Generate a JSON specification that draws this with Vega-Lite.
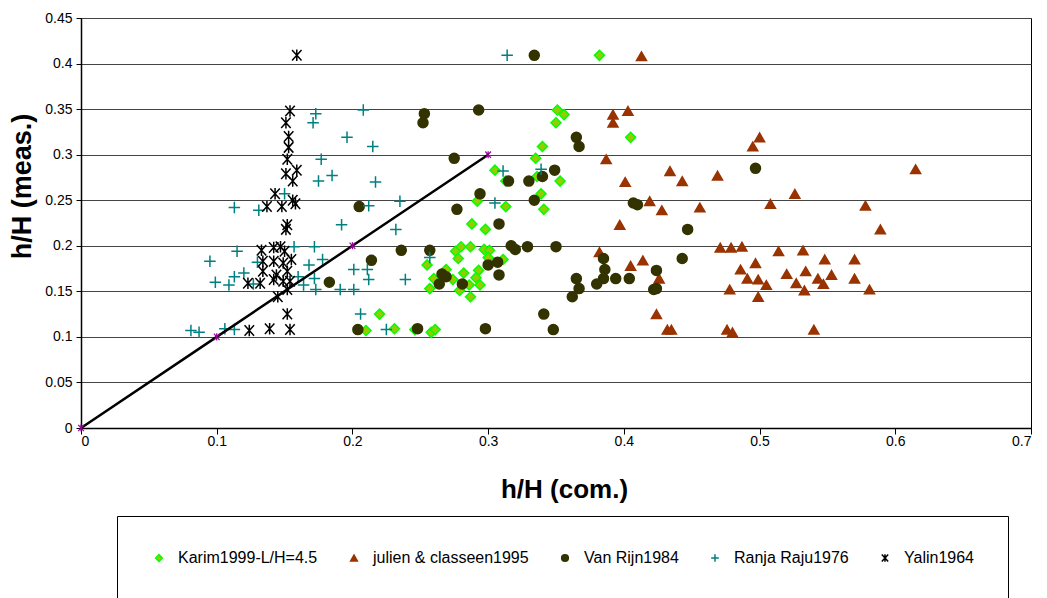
{
  "$schema": "https://vega.github.io/schema/vega-lite/v6.json",
  "width": 950,
  "height": 410,
  "autosize": {"type": "none"},
  "padding": {"left": 81, "top": 18, "right": 16, "bottom": 170},
  "background": "white",
  "config": {
    "font": "Liberation Sans",
    "view": {"stroke": "black", "strokeWidth": 1}
  },
  "datasets": {
    "pts": [
      {"s": "Karim1999-L/H=4.5", "x": 0.382, "y": 0.409},
      {"s": "Karim1999-L/H=4.5", "x": 0.351, "y": 0.349},
      {"s": "Karim1999-L/H=4.5", "x": 0.356, "y": 0.344},
      {"s": "Karim1999-L/H=4.5", "x": 0.350, "y": 0.335},
      {"s": "Karim1999-L/H=4.5", "x": 0.405, "y": 0.319},
      {"s": "Karim1999-L/H=4.5", "x": 0.340, "y": 0.309},
      {"s": "Karim1999-L/H=4.5", "x": 0.335, "y": 0.296},
      {"s": "Karim1999-L/H=4.5", "x": 0.305, "y": 0.283},
      {"s": "Karim1999-L/H=4.5", "x": 0.336, "y": 0.276},
      {"s": "Karim1999-L/H=4.5", "x": 0.353, "y": 0.271},
      {"s": "Karim1999-L/H=4.5", "x": 0.313, "y": 0.271},
      {"s": "Karim1999-L/H=4.5", "x": 0.339, "y": 0.257},
      {"s": "Karim1999-L/H=4.5", "x": 0.341, "y": 0.240},
      {"s": "Karim1999-L/H=4.5", "x": 0.313, "y": 0.243},
      {"s": "Karim1999-L/H=4.5", "x": 0.292, "y": 0.249},
      {"s": "Karim1999-L/H=4.5", "x": 0.288, "y": 0.224},
      {"s": "Karim1999-L/H=4.5", "x": 0.298, "y": 0.218},
      {"s": "Karim1999-L/H=4.5", "x": 0.276, "y": 0.194},
      {"s": "Karim1999-L/H=4.5", "x": 0.280, "y": 0.199},
      {"s": "Karim1999-L/H=4.5", "x": 0.287, "y": 0.199},
      {"s": "Karim1999-L/H=4.5", "x": 0.278, "y": 0.186},
      {"s": "Karim1999-L/H=4.5", "x": 0.297, "y": 0.196},
      {"s": "Karim1999-L/H=4.5", "x": 0.301, "y": 0.195},
      {"s": "Karim1999-L/H=4.5", "x": 0.300, "y": 0.187},
      {"s": "Karim1999-L/H=4.5", "x": 0.311, "y": 0.185},
      {"s": "Karim1999-L/H=4.5", "x": 0.269, "y": 0.174},
      {"s": "Karim1999-L/H=4.5", "x": 0.282, "y": 0.170},
      {"s": "Karim1999-L/H=4.5", "x": 0.293, "y": 0.173},
      {"s": "Karim1999-L/H=4.5", "x": 0.274, "y": 0.163},
      {"s": "Karim1999-L/H=4.5", "x": 0.291, "y": 0.165},
      {"s": "Karim1999-L/H=4.5", "x": 0.286, "y": 0.157},
      {"s": "Karim1999-L/H=4.5", "x": 0.294, "y": 0.157},
      {"s": "Karim1999-L/H=4.5", "x": 0.279, "y": 0.151},
      {"s": "Karim1999-L/H=4.5", "x": 0.287, "y": 0.144},
      {"s": "Karim1999-L/H=4.5", "x": 0.260, "y": 0.164},
      {"s": "Karim1999-L/H=4.5", "x": 0.257, "y": 0.153},
      {"s": "Karim1999-L/H=4.5", "x": 0.255, "y": 0.179},
      {"s": "Karim1999-L/H=4.5", "x": 0.220, "y": 0.125},
      {"s": "Karim1999-L/H=4.5", "x": 0.210, "y": 0.107},
      {"s": "Karim1999-L/H=4.5", "x": 0.231, "y": 0.109},
      {"s": "Karim1999-L/H=4.5", "x": 0.246, "y": 0.108},
      {"s": "Karim1999-L/H=4.5", "x": 0.258, "y": 0.105},
      {"s": "Karim1999-L/H=4.5", "x": 0.261, "y": 0.108},
      {"s": "julien & classeen1995", "x": 0.413, "y": 0.408},
      {"s": "julien & classeen1995", "x": 0.392, "y": 0.344},
      {"s": "julien & classeen1995", "x": 0.392, "y": 0.335},
      {"s": "julien & classeen1995", "x": 0.403, "y": 0.348},
      {"s": "julien & classeen1995", "x": 0.500, "y": 0.319},
      {"s": "julien & classeen1995", "x": 0.495, "y": 0.309},
      {"s": "julien & classeen1995", "x": 0.387, "y": 0.295},
      {"s": "julien & classeen1995", "x": 0.434, "y": 0.282},
      {"s": "julien & classeen1995", "x": 0.443, "y": 0.271},
      {"s": "julien & classeen1995", "x": 0.469, "y": 0.277},
      {"s": "julien & classeen1995", "x": 0.401, "y": 0.270},
      {"s": "julien & classeen1995", "x": 0.526, "y": 0.257},
      {"s": "julien & classeen1995", "x": 0.419, "y": 0.249},
      {"s": "julien & classeen1995", "x": 0.428, "y": 0.239},
      {"s": "julien & classeen1995", "x": 0.456, "y": 0.242},
      {"s": "julien & classeen1995", "x": 0.508, "y": 0.246},
      {"s": "julien & classeen1995", "x": 0.578, "y": 0.244},
      {"s": "julien & classeen1995", "x": 0.615, "y": 0.284},
      {"s": "julien & classeen1995", "x": 0.397, "y": 0.223},
      {"s": "julien & classeen1995", "x": 0.589, "y": 0.218},
      {"s": "julien & classeen1995", "x": 0.382, "y": 0.193},
      {"s": "julien & classeen1995", "x": 0.471, "y": 0.198},
      {"s": "julien & classeen1995", "x": 0.479, "y": 0.198},
      {"s": "julien & classeen1995", "x": 0.487, "y": 0.199},
      {"s": "julien & classeen1995", "x": 0.514, "y": 0.194},
      {"s": "julien & classeen1995", "x": 0.532, "y": 0.195},
      {"s": "julien & classeen1995", "x": 0.548, "y": 0.185},
      {"s": "julien & classeen1995", "x": 0.570, "y": 0.185},
      {"s": "julien & classeen1995", "x": 0.414, "y": 0.184},
      {"s": "julien & classeen1995", "x": 0.405, "y": 0.178},
      {"s": "julien & classeen1995", "x": 0.497, "y": 0.181},
      {"s": "julien & classeen1995", "x": 0.486, "y": 0.174},
      {"s": "julien & classeen1995", "x": 0.491, "y": 0.164},
      {"s": "julien & classeen1995", "x": 0.499, "y": 0.163},
      {"s": "julien & classeen1995", "x": 0.505, "y": 0.157},
      {"s": "julien & classeen1995", "x": 0.520, "y": 0.169},
      {"s": "julien & classeen1995", "x": 0.534, "y": 0.172},
      {"s": "julien & classeen1995", "x": 0.527, "y": 0.159},
      {"s": "julien & classeen1995", "x": 0.533, "y": 0.151},
      {"s": "julien & classeen1995", "x": 0.543, "y": 0.164},
      {"s": "julien & classeen1995", "x": 0.547, "y": 0.158},
      {"s": "julien & classeen1995", "x": 0.553, "y": 0.168},
      {"s": "julien & classeen1995", "x": 0.570, "y": 0.164},
      {"s": "julien & classeen1995", "x": 0.581, "y": 0.152},
      {"s": "julien & classeen1995", "x": 0.478, "y": 0.152},
      {"s": "julien & classeen1995", "x": 0.499, "y": 0.144},
      {"s": "julien & classeen1995", "x": 0.426, "y": 0.164},
      {"s": "julien & classeen1995", "x": 0.424, "y": 0.125},
      {"s": "julien & classeen1995", "x": 0.432, "y": 0.108},
      {"s": "julien & classeen1995", "x": 0.435, "y": 0.108},
      {"s": "julien & classeen1995", "x": 0.476, "y": 0.108},
      {"s": "julien & classeen1995", "x": 0.480, "y": 0.105},
      {"s": "julien & classeen1995", "x": 0.540, "y": 0.108},
      {"s": "Van Rijn1984", "x": 0.334, "y": 0.409},
      {"s": "Van Rijn1984", "x": 0.253, "y": 0.345},
      {"s": "Van Rijn1984", "x": 0.252, "y": 0.335},
      {"s": "Van Rijn1984", "x": 0.293, "y": 0.349},
      {"s": "Van Rijn1984", "x": 0.365, "y": 0.319},
      {"s": "Van Rijn1984", "x": 0.367, "y": 0.309},
      {"s": "Van Rijn1984", "x": 0.275, "y": 0.296},
      {"s": "Van Rijn1984", "x": 0.349, "y": 0.283},
      {"s": "Van Rijn1984", "x": 0.315, "y": 0.271},
      {"s": "Van Rijn1984", "x": 0.330, "y": 0.271},
      {"s": "Van Rijn1984", "x": 0.340, "y": 0.276},
      {"s": "Van Rijn1984", "x": 0.294, "y": 0.257},
      {"s": "Van Rijn1984", "x": 0.334, "y": 0.250},
      {"s": "Van Rijn1984", "x": 0.407, "y": 0.247},
      {"s": "Van Rijn1984", "x": 0.410, "y": 0.245},
      {"s": "Van Rijn1984", "x": 0.497, "y": 0.285},
      {"s": "Van Rijn1984", "x": 0.205, "y": 0.243},
      {"s": "Van Rijn1984", "x": 0.277, "y": 0.240},
      {"s": "Van Rijn1984", "x": 0.308, "y": 0.224},
      {"s": "Van Rijn1984", "x": 0.447, "y": 0.218},
      {"s": "Van Rijn1984", "x": 0.236, "y": 0.195},
      {"s": "Van Rijn1984", "x": 0.257, "y": 0.195},
      {"s": "Van Rijn1984", "x": 0.317, "y": 0.200},
      {"s": "Van Rijn1984", "x": 0.320, "y": 0.196},
      {"s": "Van Rijn1984", "x": 0.329, "y": 0.199},
      {"s": "Van Rijn1984", "x": 0.350, "y": 0.199},
      {"s": "Van Rijn1984", "x": 0.214, "y": 0.184},
      {"s": "Van Rijn1984", "x": 0.300, "y": 0.179},
      {"s": "Van Rijn1984", "x": 0.307, "y": 0.182},
      {"s": "Van Rijn1984", "x": 0.308, "y": 0.168},
      {"s": "Van Rijn1984", "x": 0.385, "y": 0.186},
      {"s": "Van Rijn1984", "x": 0.386, "y": 0.174},
      {"s": "Van Rijn1984", "x": 0.385, "y": 0.164},
      {"s": "Van Rijn1984", "x": 0.394, "y": 0.164},
      {"s": "Van Rijn1984", "x": 0.404, "y": 0.164},
      {"s": "Van Rijn1984", "x": 0.443, "y": 0.186},
      {"s": "Van Rijn1984", "x": 0.424, "y": 0.173},
      {"s": "Van Rijn1984", "x": 0.183, "y": 0.160},
      {"s": "Van Rijn1984", "x": 0.266, "y": 0.169},
      {"s": "Van Rijn1984", "x": 0.269, "y": 0.166},
      {"s": "Van Rijn1984", "x": 0.264, "y": 0.158},
      {"s": "Van Rijn1984", "x": 0.281, "y": 0.158},
      {"s": "Van Rijn1984", "x": 0.380, "y": 0.158},
      {"s": "Van Rijn1984", "x": 0.365, "y": 0.164},
      {"s": "Van Rijn1984", "x": 0.367, "y": 0.153},
      {"s": "Van Rijn1984", "x": 0.362, "y": 0.144},
      {"s": "Van Rijn1984", "x": 0.422, "y": 0.152},
      {"s": "Van Rijn1984", "x": 0.424, "y": 0.153},
      {"s": "Van Rijn1984", "x": 0.341, "y": 0.125},
      {"s": "Van Rijn1984", "x": 0.204, "y": 0.108},
      {"s": "Van Rijn1984", "x": 0.248, "y": 0.109},
      {"s": "Van Rijn1984", "x": 0.298, "y": 0.109},
      {"s": "Van Rijn1984", "x": 0.348, "y": 0.108},
      {"s": "Ranja Raju1976", "x": 0.314, "y": 0.409},
      {"s": "Ranja Raju1976", "x": 0.208, "y": 0.349},
      {"s": "Ranja Raju1976", "x": 0.173, "y": 0.345},
      {"s": "Ranja Raju1976", "x": 0.171, "y": 0.335},
      {"s": "Ranja Raju1976", "x": 0.196, "y": 0.319},
      {"s": "Ranja Raju1976", "x": 0.215, "y": 0.309},
      {"s": "Ranja Raju1976", "x": 0.177, "y": 0.295},
      {"s": "Ranja Raju1976", "x": 0.311, "y": 0.282},
      {"s": "Ranja Raju1976", "x": 0.339, "y": 0.284},
      {"s": "Ranja Raju1976", "x": 0.185, "y": 0.277},
      {"s": "Ranja Raju1976", "x": 0.175, "y": 0.271},
      {"s": "Ranja Raju1976", "x": 0.217, "y": 0.270},
      {"s": "Ranja Raju1976", "x": 0.150, "y": 0.257},
      {"s": "Ranja Raju1976", "x": 0.235, "y": 0.249},
      {"s": "Ranja Raju1976", "x": 0.305, "y": 0.247},
      {"s": "Ranja Raju1976", "x": 0.212, "y": 0.244},
      {"s": "Ranja Raju1976", "x": 0.113, "y": 0.242},
      {"s": "Ranja Raju1976", "x": 0.131, "y": 0.239},
      {"s": "Ranja Raju1976", "x": 0.192, "y": 0.223},
      {"s": "Ranja Raju1976", "x": 0.232, "y": 0.218},
      {"s": "Ranja Raju1976", "x": 0.115, "y": 0.194},
      {"s": "Ranja Raju1976", "x": 0.157, "y": 0.199},
      {"s": "Ranja Raju1976", "x": 0.172, "y": 0.199},
      {"s": "Ranja Raju1976", "x": 0.095, "y": 0.183},
      {"s": "Ranja Raju1976", "x": 0.130, "y": 0.182},
      {"s": "Ranja Raju1976", "x": 0.257, "y": 0.187},
      {"s": "Ranja Raju1976", "x": 0.178, "y": 0.185},
      {"s": "Ranja Raju1976", "x": 0.168, "y": 0.179},
      {"s": "Ranja Raju1976", "x": 0.201, "y": 0.174},
      {"s": "Ranja Raju1976", "x": 0.211, "y": 0.174},
      {"s": "Ranja Raju1976", "x": 0.120, "y": 0.170},
      {"s": "Ranja Raju1976", "x": 0.113, "y": 0.166},
      {"s": "Ranja Raju1976", "x": 0.160, "y": 0.166},
      {"s": "Ranja Raju1976", "x": 0.172, "y": 0.164},
      {"s": "Ranja Raju1976", "x": 0.212, "y": 0.163},
      {"s": "Ranja Raju1976", "x": 0.239, "y": 0.163},
      {"s": "Ranja Raju1976", "x": 0.099, "y": 0.160},
      {"s": "Ranja Raju1976", "x": 0.109, "y": 0.157},
      {"s": "Ranja Raju1976", "x": 0.127, "y": 0.158},
      {"s": "Ranja Raju1976", "x": 0.164, "y": 0.157},
      {"s": "Ranja Raju1976", "x": 0.173, "y": 0.152},
      {"s": "Ranja Raju1976", "x": 0.191, "y": 0.152},
      {"s": "Ranja Raju1976", "x": 0.201, "y": 0.152},
      {"s": "Ranja Raju1976", "x": 0.206, "y": 0.125},
      {"s": "Ranja Raju1976", "x": 0.225, "y": 0.108},
      {"s": "Ranja Raju1976", "x": 0.081, "y": 0.107},
      {"s": "Ranja Raju1976", "x": 0.087, "y": 0.105},
      {"s": "Ranja Raju1976", "x": 0.106, "y": 0.109},
      {"s": "Ranja Raju1976", "x": 0.113, "y": 0.108},
      {"s": "Yalin1964", "x": 0.159, "y": 0.409},
      {"s": "Yalin1964", "x": 0.154, "y": 0.348},
      {"s": "Yalin1964", "x": 0.151, "y": 0.335},
      {"s": "Yalin1964", "x": 0.153, "y": 0.320},
      {"s": "Yalin1964", "x": 0.153, "y": 0.308},
      {"s": "Yalin1964", "x": 0.152, "y": 0.295},
      {"s": "Yalin1964", "x": 0.159, "y": 0.283},
      {"s": "Yalin1964", "x": 0.151, "y": 0.279},
      {"s": "Yalin1964", "x": 0.156, "y": 0.271},
      {"s": "Yalin1964", "x": 0.143, "y": 0.257},
      {"s": "Yalin1964", "x": 0.156, "y": 0.250},
      {"s": "Yalin1964", "x": 0.137, "y": 0.243},
      {"s": "Yalin1964", "x": 0.148, "y": 0.243},
      {"s": "Yalin1964", "x": 0.158, "y": 0.246},
      {"s": "Yalin1964", "x": 0.152, "y": 0.223},
      {"s": "Yalin1964", "x": 0.151, "y": 0.218},
      {"s": "Yalin1964", "x": 0.133, "y": 0.195},
      {"s": "Yalin1964", "x": 0.142, "y": 0.198},
      {"s": "Yalin1964", "x": 0.147, "y": 0.199},
      {"s": "Yalin1964", "x": 0.150, "y": 0.194},
      {"s": "Yalin1964", "x": 0.155, "y": 0.185},
      {"s": "Yalin1964", "x": 0.134, "y": 0.183},
      {"s": "Yalin1964", "x": 0.142, "y": 0.183},
      {"s": "Yalin1964", "x": 0.149, "y": 0.181},
      {"s": "Yalin1964", "x": 0.134, "y": 0.172},
      {"s": "Yalin1964", "x": 0.144, "y": 0.168},
      {"s": "Yalin1964", "x": 0.152, "y": 0.172},
      {"s": "Yalin1964", "x": 0.132, "y": 0.159},
      {"s": "Yalin1964", "x": 0.142, "y": 0.163},
      {"s": "Yalin1964", "x": 0.149, "y": 0.161},
      {"s": "Yalin1964", "x": 0.123, "y": 0.159},
      {"s": "Yalin1964", "x": 0.154, "y": 0.161},
      {"s": "Yalin1964", "x": 0.145, "y": 0.144},
      {"s": "Yalin1964", "x": 0.152, "y": 0.152},
      {"s": "Yalin1964", "x": 0.152, "y": 0.125},
      {"s": "Yalin1964", "x": 0.124, "y": 0.107},
      {"s": "Yalin1964", "x": 0.139, "y": 0.109},
      {"s": "Yalin1964", "x": 0.154, "y": 0.108}
    ],
    "ideal": [
      {"x": 0, "y": 0},
      {"x": 0.1, "y": 0.1},
      {"x": 0.2, "y": 0.2},
      {"x": 0.3, "y": 0.3}
    ]
  },
  "layer": [
    {
      "data": {"name": "pts"},
      "mark": {"type": "point", "strokeWidth": 1.5, "opacity": 1},
      "encoding": {
        "x": {
          "field": "x", "type": "quantitative",
          "scale": {"domain": [0, 0.7], "nice": false, "zero": false},
          "axis": {
            "title": "h/H (com.)",
            "values": [0, 0.1, 0.2, 0.3, 0.4, 0.5, 0.6, 0.7],
            "format": ".1~f",
            "grid": false,
            "domainColor": "black", "domainWidth": 1.5,
            "tickColor": "black", "tickSize": 6,
            "labelColor": "black", "labelFontSize": 14, "labelPadding": 0,
            "titleFontSize": 26, "titleFontWeight": "bold", "titleColor": "black",
            "titleBaseline": "middle", "titleX": 483, "titleY": 61
          }
        },
        "y": {
          "field": "y", "type": "quantitative",
          "scale": {"domain": [0, 0.45], "nice": false, "zero": false},
          "axis": {
            "title": "h/H (meas.)",
            "values": [0, 0.05, 0.1, 0.15, 0.2, 0.25, 0.3, 0.35, 0.4, 0.45],
            "format": ".2~f",
            "grid": true, "gridColor": "#444444", "gridWidth": 1,
            "domainColor": "black", "domainWidth": 1.5,
            "tickColor": "black", "tickSize": 5,
            "labelColor": "black", "labelFontSize": 14, "labelPadding": 4,
            "titleFontSize": 27, "titleFontWeight": "bold", "titleColor": "black",
            "titleBaseline": "middle", "titleX": -59, "titleY": 168
          }
        },
        "shape": {
          "field": "s", "type": "nominal",
          "scale": {
            "domain": ["Karim1999-L/H=4.5", "julien & classeen1995", "Van Rijn1984", "Ranja Raju1976", "Yalin1964"],
            "range": ["diamond", "triangle-up", "circle", "M-1.15,0L1.15,0M0,-1.15L0,1.15", "M-0.95,-1.05L0.95,1.05M-0.95,1.05L0.95,-1.05M0,-1.15L0,1.15"]
          },
          "legend": {
            "orient": "none", "legendX": 36, "legendY": 498,
            "direction": "horizontal", "columns": 5, "columnPadding": 28,
            "title": null, "padding": 34,
            "strokeColor": "black", "fillColor": "white",
            "labelFont": "Liberation Sans", "labelFontSize": 16, "labelColor": "black",
            "labelOffset": 11, "symbolSize": 45, "symbolStrokeWidth": 1.5
          }
        },
        "fill": {
          "field": "s", "type": "nominal",
          "scale": {
            "domain": ["Karim1999-L/H=4.5", "julien & classeen1995", "Van Rijn1984", "Ranja Raju1976", "Yalin1964"],
            "range": ["#99CC00", "#993300", "#333300", "transparent", "transparent"]
          },
          "legend": null
        },
        "stroke": {
          "field": "s", "type": "nominal",
          "scale": {
            "domain": ["Karim1999-L/H=4.5", "julien & classeen1995", "Van Rijn1984", "Ranja Raju1976", "Yalin1964"],
            "range": ["#00FF00", "#993300", "#333300", "#008080", "#000000"]
          },
          "legend": null
        },
        "size": {"value": 100}
      }
    },
    {
      "data": {"name": "ideal"},
      "mark": {"type": "line", "color": "black", "strokeWidth": 2.5},
      "encoding": {
        "x": {"field": "x", "type": "quantitative"},
        "y": {"field": "y", "type": "quantitative"}
      }
    },
    {
      "data": {"name": "ideal"},
      "mark": {"type": "point", "shape": "M-0.8,-0.9L0.8,0.9M-0.8,0.9L0.8,-0.9M0,-1L0,1", "color": "#990099", "strokeWidth": 1.2, "size": 50, "opacity": 1},
      "encoding": {
        "x": {"field": "x", "type": "quantitative"},
        "y": {"field": "y", "type": "quantitative"}
      }
    }
  ]
}
